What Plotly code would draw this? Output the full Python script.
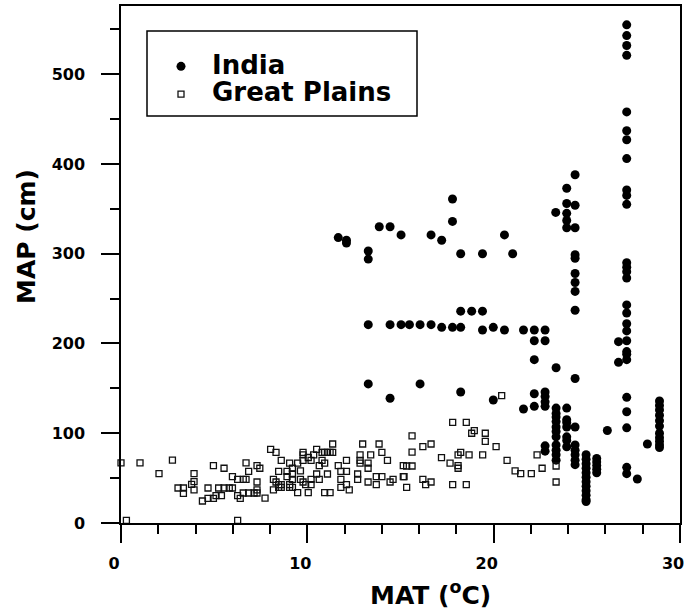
import plotly.graph_objects as go

# India (filled circles): MAT (°C), MAP (cm)
india_mat = [
    11.66, 12.1, 12.1, 13.27, 13.27, 13.86, 14.44, 15.03, 16.64, 17.21, 17.79, 17.79,
    18.23, 19.4, 20.58, 21.02, 23.33,
    13.27, 14.44, 15.03, 15.48, 16.05, 16.64, 17.21, 17.79, 18.23, 18.23, 18.82, 19.4,
    19.4, 19.98, 20.58, 21.6, 22.18, 22.76, 22.18, 22.76, 22.18,
    13.27, 14.44, 16.05, 18.23, 19.98, 21.6, 22.18, 22.18, 22.76, 22.76, 22.76, 22.76,
    22.76, 22.76,
    23.35, 23.35, 23.35, 23.35, 23.35, 23.35, 23.35, 23.35, 23.35, 23.35, 23.35, 23.35,
    23.92, 23.92, 23.92, 23.92, 23.92, 23.92, 23.92, 23.92, 23.92, 23.92, 23.92, 23.92,
    24.37, 24.37, 24.37, 24.37, 24.37, 24.37, 24.37, 24.37, 24.37, 24.37, 24.37, 24.37,
    24.37, 24.37, 24.37, 24.37,
    24.96, 24.96, 24.96, 24.96, 24.96, 24.96, 24.96, 24.96, 24.96, 24.96, 24.96, 24.96,
    25.53, 25.53, 25.53, 25.53, 25.53,
    26.1, 26.7, 26.7,
    27.14, 27.14, 27.14, 27.14, 27.14, 27.14, 27.14, 27.14, 27.14, 27.14, 27.14, 27.14,
    27.14, 27.14, 27.14, 27.14, 27.14, 27.14, 27.14, 27.14, 27.14, 27.14, 27.14, 27.14,
    27.14, 27.14, 27.14, 27.14,
    27.71, 28.25,
    28.9, 28.9, 28.9, 28.9, 28.9, 28.9, 28.9, 28.9, 28.9, 28.9, 28.9,
]
india_map = [
    318, 315, 312, 303, 294, 330, 330, 321, 321, 315, 361, 336,
    300, 300, 321, 300, 346,
    221, 221, 221, 221, 221, 221, 218, 218, 218, 236, 236, 236,
    215, 218, 215, 215, 215, 215, 203, 203, 182,
    155, 139, 155, 146, 137, 127, 144, 130, 146, 141, 135, 130,
    86, 80,
    173, 128, 122, 118, 113, 107, 102, 96, 87, 81, 76, 70,
    373, 356, 345, 337, 329, 128, 115, 112, 107, 96, 92, 85,
    388, 354, 329, 299, 295, 278, 268, 258, 237, 161, 107, 87,
    81, 76, 70, 65,
    76, 71, 66, 61, 56, 51, 46, 41, 36, 31, 26, 24,
    72, 68, 64, 60, 56,
    103, 202, 179,
    555, 543, 532, 521, 458, 437, 427, 406, 371, 365, 355, 290,
    285, 280, 273, 243, 234, 222, 214, 203, 191, 188, 182, 140,
    124, 106, 62, 55,
    49, 88,
    136, 131, 126, 120, 114, 108, 100, 95, 91, 87, 84,
]

# Great Plains (open squares): MAT (°C), MAP (cm)
gp_mat = [
    0.0, 1.02, 2.76, 2.04, 0.29, 6.26, 3.92, 3.06, 3.35, 3.35, 3.79, 3.92, 3.92, 4.96,
    4.67, 4.37, 4.67, 4.96, 5.1, 5.39, 5.24, 5.53, 5.81, 5.53, 5.98, 5.98, 6.26, 6.26,
    6.4, 6.56, 6.71, 6.71, 6.85, 6.56, 6.85, 7.14, 7.3, 7.45, 7.3, 7.3, 7.3, 7.73,
    8.03, 8.32, 8.6, 8.46, 8.18, 8.18, 8.32, 8.46, 8.6, 8.46, 8.6, 9.05, 8.91, 8.91,
    9.2, 9.2, 9.2, 9.05, 9.05, 9.2, 9.48, 9.48, 9.63, 9.63, 9.77, 9.77, 9.77, 9.77,
    9.91, 10.05, 10.05, 10.2, 10.34, 10.5, 10.2, 10.2, 10.5, 10.64, 10.64, 10.79,
    10.79, 10.93, 10.93, 11.08, 11.22, 11.36, 11.36, 11.08, 10.93, 11.22, 11.66, 11.8,
    12.1, 12.1, 11.8, 11.8, 12.1, 12.25, 12.7, 12.7, 12.83, 12.83, 12.83, 12.97,
    13.26, 13.26, 13.4, 13.26, 13.7, 14.0, 13.7, 13.85, 14.0, 14.3, 14.44, 14.6,
    15.15, 15.15,
    15.62, 15.62, 16.2, 16.64, 15.33, 15.62, 15.19, 15.33, 16.2, 16.35, 16.64, 17.2,
    17.66, 17.8, 18.53, 18.09, 18.23, 18.09, 18.09, 17.8, 18.53, 18.68, 18.82, 18.96,
    19.55, 19.55, 19.41, 20.13, 20.43, 20.72, 21.15, 21.45, 22.02, 22.33, 22.6, 23.35,
    23.35,
]
gp_map = [
    67, 67, 70, 55, 3, 3, 55, 39, 39, 33, 43, 46, 37, 64,
    39, 24.5, 27.5, 27.5, 30.4, 30.4, 39, 39, 39, 61, 51.6, 39, 48.7, 30.4,
    27.5, 48.7, 67, 48.7, 57.6, 33.4, 33.4, 33.4, 64, 61, 45.7, 36.8, 33.4, 27.8,
    82, 78.7, 69.8, 57.6, 48.7, 36.8, 45.7, 42.7, 42.7, 39.7, 39.7, 66.8, 57.6, 51.6,
    61, 54.6, 48.7, 42.7, 39.7, 39.7, 66.8, 33.8, 58, 48.7, 78.7, 75.8, 69.8, 45.7,
    42.7, 73, 33.8, 69.8, 75.8, 82, 48.7, 42.7, 54.6, 64, 48.7, 78.7,
    69.8, 66.8, 78.7, 78.7, 78.7, 78.7, 88, 54.6, 33.8, 33.8, 64, 57.6,
    57.6, 69.8, 48.7, 39.7, 42.7, 36.8, 54.6, 48.7, 75.8, 69.8, 66.8, 88,
    66.8, 61, 75.8, 45.7, 51.6, 51.6, 42.7, 88, 78.7, 69.8, 45.7, 48.7,
    51.6, 64,
    97, 79, 85, 88, 63.5, 63.5, 51.6, 39.7, 48.7, 42.7, 45.7, 72.8,
    66.8, 112, 112, 75.8, 78.7, 64, 61, 42.7, 42.7, 75.8, 100, 103,
    100, 91, 75.8, 85, 142, 69.8, 58, 55, 55, 75.8, 61, 63.5,
    45.7,
]

x_ticks = [0, 10, 20, 30]
y_ticks = [0, 100, 200, 300, 400, 500]

FONT = "DejaVu Sans"
INK = "#000000"

fig = go.Figure()
fig.add_trace(go.Scatter(
    x=india_mat, y=india_map, mode="markers",
    name='<span style="font-size:26px">India</span>',
    marker=dict(symbol="circle", size=9, color=INK, line=dict(width=0)),
    cliponaxis=False,
))
fig.add_trace(go.Scatter(
    x=gp_mat, y=gp_map, mode="markers",
    name='<span style="font-size:26px">Great Plains</span>',
    marker=dict(symbol="square-open", size=6, color="#111111", line=dict(width=1.3)),
    cliponaxis=False,
))

axis_common = dict(
    showgrid=False, zeroline=False, showline=True, mirror=True, automargin=False,
    linecolor=INK, linewidth=1.5, ticks="outside", ticklen=18, tickwidth=1.5,
    tickcolor=INK, tickfont=dict(family=FONT, size=16, color=INK, weight="bold"),
)

fig.update_xaxes(
    range=[0, 30], tickvals=x_ticks, ticktext=[str(v) for v in x_ticks],
    minor=dict(dtick=2, tick0=0, ticks="outside", ticklen=9, tickwidth=1.5, tickcolor=INK),
    ticklabelstandoff=7, ticklabelshift=-7, **axis_common,
)
fig.update_yaxes(
    range=[0, 576], tickvals=y_ticks, ticktext=[str(v) for v in y_ticks],
    minor=dict(dtick=50, tick0=0, ticks="outside", ticklen=9, tickwidth=1.5, tickcolor=INK),
    ticklabelstandoff=13, **axis_common,
)

fig.update_layout(
    width=686, height=609,
    margin=dict(l=121, r=6, t=6, b=86),
    paper_bgcolor="white", plot_bgcolor="white",
    showlegend=True,
    legend=dict(
        x=(150 - 121) / 559, y=(523 - 47.5) / 517, xanchor="left", yanchor="top",
        bgcolor="rgba(0,0,0,0)", borderwidth=0,
        font=dict(family=FONT, size=19, color=INK, weight="bold"),
        itemwidth=52, tracegroupgap=0,
    ),
    shapes=[dict(
        type="rect", xref="paper", yref="paper",
        x0=(147 - 121) / 559, x1=(417 - 121) / 559,
        y0=(523 - 116) / 517, y1=(523 - 31) / 517,
        line=dict(color=INK, width=1.5), fillcolor="rgba(0,0,0,0)", layer="below",
    )],
    annotations=[
        dict(text="MAT (<sup>o</sup>C)", xref="paper", yref="paper",
             x=(430 - 121) / 559, y=(523 - 593) / 517, xanchor="center", yanchor="middle",
             showarrow=False, font=dict(family=FONT, size=25, color=INK, weight="bold")),
        dict(text="MAP (cm)", xref="paper", yref="paper", textangle=-90,
             x=(26 - 121) / 559, y=(523 - 237) / 517, xanchor="center", yanchor="middle",
             showarrow=False, font=dict(family=FONT, size=25, color=INK, weight="bold")),
    ],
)

fig.write_html(
    "out.html",
    config={"displayModeBar": False},
    post_script="document.documentElement.style.margin='0';"
                "document.body.style.margin='0';"
                "document.body.style.overflow='hidden';",
)
